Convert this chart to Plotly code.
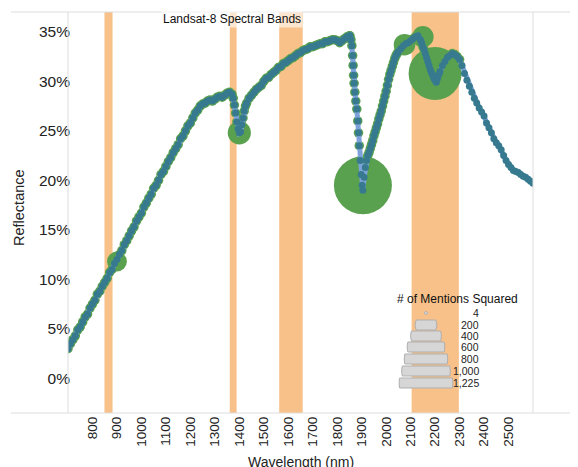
import math
import plotly.graph_objects as go

# ---------------- data ----------------
wavelength = [
    700, 710, 720, 730, 740, 750, 760, 770, 780, 790,
    800, 810, 820, 830, 840, 850, 860, 870, 880, 890,
    900, 910, 920, 930, 940, 950, 960, 970, 980, 990,
    1000, 1010, 1020, 1030, 1040, 1050, 1060, 1070, 1080, 1090,
    1100, 1110, 1120, 1130, 1140, 1150, 1160, 1170, 1180, 1190,
    1200, 1210, 1220, 1230, 1240, 1250, 1260, 1270, 1280, 1290,
    1300, 1310, 1320, 1330, 1340, 1350, 1360, 1370, 1375, 1380, 1385, 1390, 1395,
    1400, 1405, 1410, 1415, 1420, 1425, 1430, 1440, 1450, 1460, 1470, 1480, 1490,
    1500, 1510, 1520, 1530, 1540, 1550, 1560, 1570, 1580, 1590,
    1600, 1610, 1620, 1630, 1640, 1650, 1660, 1670, 1680, 1690,
    1700, 1710, 1720, 1730, 1740, 1750, 1760, 1770, 1780, 1790,
    1800, 1810, 1820, 1830, 1840, 1850,
    1852, 1856, 1860, 1863, 1865, 1867, 1869, 1872, 1876, 1880,
    1884, 1887, 1890, 1894, 1898, 1902, 1905,
    1910, 1915, 1920, 1925, 1930, 1935, 1940, 1945, 1950, 1955,
    1960, 1965, 1970, 1975, 1980, 1985, 1990, 1995, 2000, 2005,
    2010, 2015, 2020, 2025, 2030, 2035, 2040, 2045, 2050, 2060,
    2070, 2080, 2090, 2100, 2110, 2120, 2130,
    2140, 2145, 2150, 2155, 2160, 2165, 2170, 2175, 2180, 2185,
    2190, 2195, 2200, 2205, 2210, 2215, 2220, 2230, 2240, 2250,
    2260, 2270, 2280, 2290,
    2300, 2310, 2320, 2330, 2340, 2350, 2360, 2370, 2380, 2390,
    2400, 2410, 2420, 2430, 2440, 2450, 2460, 2470, 2480, 2490,
    2500, 2510, 2520, 2530, 2540, 2550, 2560, 2570, 2580, 2590, 2600,
]
reflectance = [
    3.0, 3.5, 3.9, 4.3, 4.9, 5.2, 5.7, 6.2, 6.5, 7.1,
    7.5, 7.9, 8.5, 8.8, 9.3, 9.7, 10.1, 10.7, 11.0, 11.6,
    12.0, 12.5, 12.9, 13.5, 13.9, 14.4, 14.9, 15.3, 15.9, 16.3,
    16.7, 17.3, 17.7, 18.2, 18.6, 19.2, 19.5, 20.0, 20.6, 20.9,
    21.4, 21.9, 22.3, 22.8, 23.2, 23.6, 24.2, 24.5, 25.0, 25.5,
    25.8, 26.3, 26.8, 27.1, 27.5, 27.7, 27.8, 28.0, 28.1, 28.0,
    28.2, 28.4, 28.5, 28.4, 28.6, 28.8, 28.9, 28.7, 28.3, 27.6, 26.8, 25.9, 25.2,
    24.8, 24.9, 25.6, 26.3, 27.0, 27.5, 27.8, 28.3, 28.6, 28.9, 29.2, 29.4, 29.6,
    30.0, 30.3, 30.4, 30.7, 30.9, 31.1, 31.4, 31.5, 31.8, 31.9,
    32.1, 32.3, 32.4, 32.6, 32.8, 32.9, 33.1, 33.2, 33.3, 33.5,
    33.5, 33.6, 33.7, 33.8, 33.8, 34.0, 34.0, 34.1, 34.2, 34.2,
    34.1, 33.9, 34.1, 34.3, 34.5, 34.6,
    34.6, 34.2, 33.6, 32.6, 31.6, 30.6, 29.8, 28.9, 28.0, 27.2,
    26.0, 24.8, 23.5, 22.0, 20.6, 19.5, 19.0,
    20.3, 21.3, 22.0, 22.5, 22.8, 23.2, 23.6, 24.0, 24.5, 24.9,
    25.3, 25.7, 26.2, 26.6, 27.0, 27.5, 28.0, 28.5, 29.0, 29.6,
    30.2, 30.7, 31.1, 31.5, 31.9, 32.3, 32.6, 32.8, 33.0, 33.3,
    33.6, 33.8, 33.9, 34.1, 34.3, 34.5, 34.6,
    34.2, 33.9, 33.5, 33.2, 32.8, 32.4, 32.0, 31.6, 31.2, 30.9,
    30.6, 30.3, 30.1, 29.9, 30.3, 30.7, 31.0, 31.6, 32.0, 32.4,
    32.6, 32.8, 32.7, 32.5,
    32.2, 31.6, 30.8, 30.1, 29.5, 28.9, 28.3, 27.8, 27.3, 26.9,
    26.5, 25.8, 25.3, 24.8, 24.2, 23.8, 23.5, 23.1, 22.5, 22.0,
    21.6, 21.3, 21.0, 20.9, 20.8, 20.6, 20.4, 20.3, 20.1, 19.9, 19.7,
]
# wavelengths covered by small "mention" circles behind the line
mentions_max_wavelength = 2300

bubble_wavelength = [900, 1400, 1905, 2075, 2150, 2200]
bubble_reflectance = [11.8, 24.8, 19.5, 33.7, 34.5, 30.8]
mentions_squared = [144, 196, 1225, 169, 169, 1024]

band_start = [849, 1361, 1563, 2104]
band_end = [882, 1389, 1659, 2297]

x_ticks = [800, 900, 1000, 1100, 1200, 1300, 1400, 1500, 1600,
           1700, 1800, 1900, 2000, 2100, 2200, 2300, 2400, 2500]
y_ticks = [0, 5, 10, 15, 20, 25, 30, 35]

legend_values = [4, 200, 400, 600, 800, 1000, 1225]
legend_labels = ["4", "200", "400", "600", "800", "1,000", "1,225"]

# ---------------- geometry / style ----------------
# the page body adds an 8px margin; screen positions below are window
# pixels, shifted by OFF into figure pixels
OFF = 8
W, H = 578 - OFF, 467 - OFF
PLOT_L, PLOT_R, PLOT_T, PLOT_B = 68, 533, 12, 413  # window pixels
ML, MT = PLOT_L - OFF, PLOT_T - OFF
PW, PH = PLOT_R - PLOT_L, PLOT_B - PLOT_T
MR, MB = W - ML - PW, H - MT - PH

FONT = "Liberation Sans, Arial, sans-serif"
GREEN = "#59A14F"
LIGHT_BLUE = "#7DA2DA"
TEAL = "#377A8F"
ORANGE = "#F8C18A"
GRID = "#DDDDDD"


def px(x):
    return (x - PLOT_L) / PW


def py(y):
    return 1 - (y - PLOT_T) / PH


def bubble_diam(v):
    return 1.657 * math.sqrt(v)


def legend_diam(v):
    return 1.534 * math.sqrt(v)


fig = go.Figure()

# bubbles (# of mentions squared)
fig.add_trace(go.Scatter(
    x=bubble_wavelength, y=bubble_reflectance, mode="markers",
    marker=dict(size=[bubble_diam(v) for v in mentions_squared], color=GREEN,
                line=dict(width=0), opacity=1),
    hoverinfo="skip", showlegend=False,
))
# small green circles along the mentioned part of the spectrum
gx = [w for w in wavelength if w <= mentions_max_wavelength]
gy = [r for w, r in zip(wavelength, reflectance) if w <= mentions_max_wavelength]
fig.add_trace(go.Scatter(
    x=gx, y=gy, mode="markers",
    marker=dict(size=9.5, color=GREEN, line=dict(width=0)),
    hoverinfo="skip", showlegend=False,
))
# spectrum line with point marks
fig.add_trace(go.Scatter(
    x=wavelength, y=reflectance, mode="lines+markers",
    line=dict(color=LIGHT_BLUE, width=5),
    marker=dict(size=7, color=TEAL, line=dict(width=0)),
    hoverinfo="skip", showlegend=False,
))

shapes = []
for s, e in zip(band_start, band_end):
    shapes.append(dict(type="rect", xref="x", yref="paper", x0=s, x1=e, y0=0, y1=1,
                       fillcolor=ORANGE, line=dict(width=0), layer="below"))

# frame lines
shapes.append(dict(type="line", xref="paper", yref="paper", x0=px(11), x1=px(578),
                   y0=1, y1=1, line=dict(color=GRID, width=1)))
shapes.append(dict(type="line", xref="paper", yref="paper", x0=px(11), x1=px(578),
                   y0=0, y1=0, line=dict(color=GRID, width=1)))
shapes.append(dict(type="line", xref="paper", yref="paper", x0=0, x1=0,
                   y0=0, y1=1, line=dict(color=GRID, width=1)))
shapes.append(dict(type="line", xref="paper", yref="paper", x0=1, x1=1,
                   y0=0, y1=1, line=dict(color=GRID, width=1)))

# size legend (circles clipped to rows)
row_y = [313, 325, 336, 347, 359, 371, 383]
row_h = 10
cx = 426
annotations = []
for v, lab, ry in zip(legend_values, legend_labels, row_y):
    R = legend_diam(v) / 2
    half = min(row_h / 2, R)
    n = 10
    right, left = [], []
    for i in range(n + 1):
        t = -half + 2 * half * i / n
        w = math.sqrt(max(R * R - t * t, 0))
        right.append((cx + w, ry + t))
        left.append((cx - w, ry + t))
    pts = right + left[::-1]
    path = "M " + " L ".join(f"{px(a):.5f},{py(b):.5f}" for a, b in pts) + " Z"
    shapes.append(dict(type="path", xref="paper", yref="paper", path=path,
                       fillcolor="#D6D6D6", line=dict(color="#AFAFAF", width=1)))
    annotations.append(dict(xref="paper", yref="paper", x=px(481), y=py(ry),
                            text=lab, showarrow=False, xanchor="right", yanchor="middle",
                            font=dict(family=FONT, size=10.5, color="#222")))

annotations.append(dict(xref="paper", yref="paper", x=px(457.5), y=py(299),
                        text="# of Mentions Squared", showarrow=False,
                        xanchor="center", yanchor="middle",
                        font=dict(family=FONT, size=12, color="#111")))
annotations.append(dict(xref="paper", yref="paper", x=px(231.7), y=py(19),
                        text="Landsat-8 Spectral Bands", showarrow=False,
                        xanchor="center", yanchor="middle",
                        bgcolor="rgba(255,255,255,0.6)", borderpad=1,
                        font=dict(family=FONT, size=12, color="#111")))
# axis titles
annotations.append(dict(xref="paper", yref="paper", x=px(18.5), y=py(207.5),
                        text="Reflectance", showarrow=False, textangle=-90,
                        xanchor="center", yanchor="middle",
                        font=dict(family=FONT, size=14.5, color="#222")))
annotations.append(dict(xref="paper", yref="paper", x=0.5, y=py(462),
                        text="Wavelength (nm)", showarrow=False,
                        xanchor="center", yanchor="middle",
                        font=dict(family=FONT, size=14, color="#222")))

fig.update_layout(
    width=W, height=H,
    margin=dict(l=ML, r=MR, t=MT, b=MB, autoexpand=False),
    paper_bgcolor="white", plot_bgcolor="white",
    font=dict(family=FONT, color="#222"),
    shapes=shapes, annotations=annotations,
    showlegend=False,
    xaxis=dict(range=[700, 2600], tickvals=x_ticks, ticktext=[str(t) for t in x_ticks],
               tickangle=-90, showgrid=False, zeroline=False, showline=False,
               ticks="", automargin=False,
               tickfont=dict(family=FONT, size=13.5, color="#222")),
    yaxis=dict(range=[-3.5, 37], tickvals=y_ticks, ticktext=[f"{t}%" for t in y_ticks],
               showgrid=False, zeroline=False, showline=False, ticks="", automargin=False,
               ticklabelstandoff=-3,
               tickfont=dict(family=FONT, size=15.5, color="#222")),
)

fig.write_html("out.html")
